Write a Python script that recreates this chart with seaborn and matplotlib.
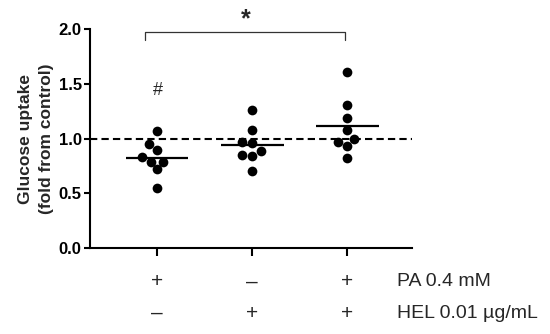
import pandas as pd
import matplotlib
matplotlib.use("Agg")
import matplotlib.pyplot as plt
import matplotlib.transforms as mtransforms
import seaborn as sns

# group names and individual replicate values (fold from control)
groups = ["PA", "HEL", "PA+HEL"]
pa_vals = [1.07, 0.90, 0.95, 0.79, 0.83, 0.79, 0.72, 0.55]
hel_vals = [1.26, 1.08, 0.97, 0.89, 0.96, 0.84, 0.85, 0.70]
pahel_vals = [1.61, 1.31, 1.19, 1.08, 1.00, 0.97, 0.93, 0.82]

# treatment table under the x axis
pa_row = ["+", "\u2013", "+"]
hel_row = ["\u2013", "+", "+"]
row_labels = ["PA 0.4 mM", "HEL 0.01 \u00b5g/mL"]

yticks = [0.0, 0.5, 1.0, 1.5, 2.0]

df = pd.DataFrame({
    "group": [groups[0]] * len(pa_vals) + [groups[1]] * len(hel_vals) + [groups[2]] * len(pahel_vals),
    "uptake": pa_vals + hel_vals + pahel_vals,
})

sns.set_style("ticks")
plt.rcParams["font.family"] = ["Liberation Sans", "DejaVu Sans"]

fig = plt.figure(figsize=(5.5, 3.34), dpi=100)
ax = fig.add_axes([0.1636, 0.2575, 0.5855, 0.6548])

sns.swarmplot(data=df, x="group", y="uptake", order=groups, color="black",
              size=7, ax=ax, zorder=3)

# mean lines
means = df.groupby("group", sort=False)["uptake"].mean().reindex(groups)
for i, m in enumerate(means):
    ax.hlines(m, i - 0.33, i + 0.33, color="black", lw=1.6, zorder=4)

# reference line at 1.0
ax.axhline(1.0, color="black", lw=1.5, ls=(0, (3.5, 2)), zorder=2)

ax.set_xlim(-0.705, 2.68)
ax.set_ylim(0, 2.0)
ax.set_yticks(yticks)
ax.set_yticklabels([f"{t:.1f}" for t in yticks], fontsize=12, fontweight="bold")
ax.set_xticks(range(len(groups)))
ax.set_xticklabels([])
ax.set_xlabel("")
ax.set_ylabel("Glucose uptake\n(fold from control)", fontsize=12.5,
              fontweight="bold", linespacing=1.55, labelpad=3)

for s in ["top", "right"]:
    ax.spines[s].set_visible(False)
for s in ["left", "bottom"]:
    ax.spines[s].set_linewidth(1.5)
    ax.spines[s].set_color("black")
ax.tick_params(axis="y", length=4.5, width=1.5, pad=1.5, colors="black")
ax.tick_params(axis="x", length=6, width=1.5, colors="black")

# treatment table
trans = mtransforms.blended_transform_factory(ax.transData, ax.transAxes)
for i in range(len(groups)):
    ax.text(i, -0.155, pa_row[i], transform=trans, ha="center", va="center", fontsize=15)
    ax.text(i, -0.30, hel_row[i], transform=trans, ha="center", va="center", fontsize=15)
ax.text(2.526, -0.155, row_labels[0], transform=trans, ha="left", va="center", fontsize=14)
ax.text(2.526, -0.30, row_labels[1], transform=trans, ha="left", va="center", fontsize=14)

# significance marks
ax.plot([-0.13, -0.13, 1.98, 1.98], [1.90, 1.975, 1.975, 1.90], color="#333333",
        lw=0.9, clip_on=False)
ax.text(0.93, 2.09, "*", ha="center", va="center", fontsize=18, fontweight="bold")
ax.text(0.01, 1.44, "#", ha="center", va="center", fontsize=13)

fig.savefig("out.png", dpi=100)
